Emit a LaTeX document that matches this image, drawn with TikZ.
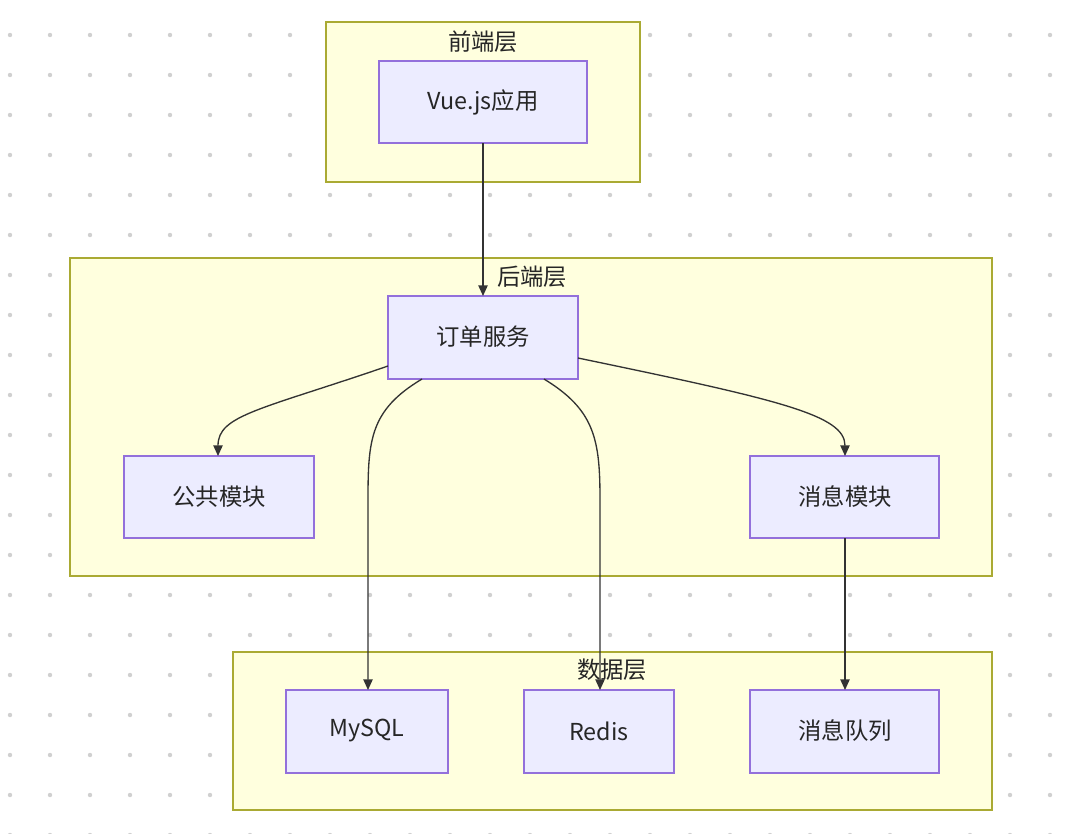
\documentclass[tikz,border=0pt]{standalone}
\usepackage{fontspec}
\setmainfont{Noto Sans CJK SC}
\usetikzlibrary{arrows.meta}
\definecolor{grpfill}{HTML}{FFFFDE}
\definecolor{grpline}{HTML}{AAAA33}
\definecolor{nfill}{HTML}{ECECFF}
\definecolor{nline}{HTML}{9370DB}
\definecolor{eline}{HTML}{333333}
\definecolor{dotc}{HTML}{D0D0D0}
\begin{document}
\begin{tikzpicture}[x=0.75pt,y=-0.75pt,
  grp/.style={draw=grpline,fill=grpfill,line width=0.9pt},
  nd/.style={draw=nline,fill=nfill,line width=0.9pt},
  lbl/.style={font=\fontsize{17.5}{20}\selectfont,text=black!85},
  ed/.style={draw=eline,line width=1pt,-{Triangle[length=8pt,width=7pt]}}]
\useasboundingbox (0,0) rectangle (1080,833);
\fill[white] (0,0) rectangle (1080,833);
\foreach \i in {0,...,26} \foreach \j in {0,...,20}
  \fill[dotc] (10+40*\i,35+40*\j) circle (2.2);
% groups
\draw[grp] (326,22) rectangle (640,182);
\node[lbl] (g1) at (483,42) {前端层};
\draw[grp] (70,258) rectangle (992,576);
\node[lbl] (g2) at (532,277) {后端层};
\draw[grp] (233,652) rectangle (992,810);
\node[lbl] (g3) at (612,670) {数据层};
% nodes
\draw[nd] (379,61) rectangle (587,143); \node[lbl] (vue) at (483,102) {Vue.js应用};
\draw[nd] (388,296) rectangle (578,379); \node[lbl] (ord) at (483,337) {订单服务};
\draw[nd] (124,456) rectangle (314,538); \node[lbl] (pub) at (219,497) {公共模块};
\draw[nd] (750,456) rectangle (939,538); \node[lbl] (msg) at (845,497) {消息模块};
\draw[nd] (286,690) rectangle (448,773); \node[lbl] (my) at (367,731) {MySQL};
\draw[nd] (524,690) rectangle (674,773); \node[lbl] (rd) at (599,731) {Redis};
\draw[nd] (750,690) rectangle (939,773); \node[lbl] (mq) at (845,731) {消息队列};
\coordinate (vueB) at (483,143); \coordinate (ordT) at (483,296);
\coordinate (o1) at (388,366); \coordinate (pubT) at (218,456);
\coordinate (o2) at (422,379); \coordinate (myT) at (368,690);
\coordinate (o3) at (544,379); \coordinate (rdT) at (600,690);
\coordinate (o4) at (578,358); \coordinate (msgT) at (845,456);
\coordinate (msgB) at (845,538); \coordinate (mqT) at (845,690);
% edges
\draw[ed] (vueB) -- (ordT);
\draw[ed] (o1) .. controls (260,410) and (218,415) .. (pubT);
\draw[ed] (o2) .. controls (370,410) and (368,440) .. (368,500) -- (myT);
\draw[ed] (o3) .. controls (595,410) and (600,440) .. (600,500) -- (rdT);
\draw[ed] (o4) .. controls (780,400) and (845,415) .. (msgT);
\draw[ed] (msgB) -- (mqT);
\end{tikzpicture}
\end{document}
